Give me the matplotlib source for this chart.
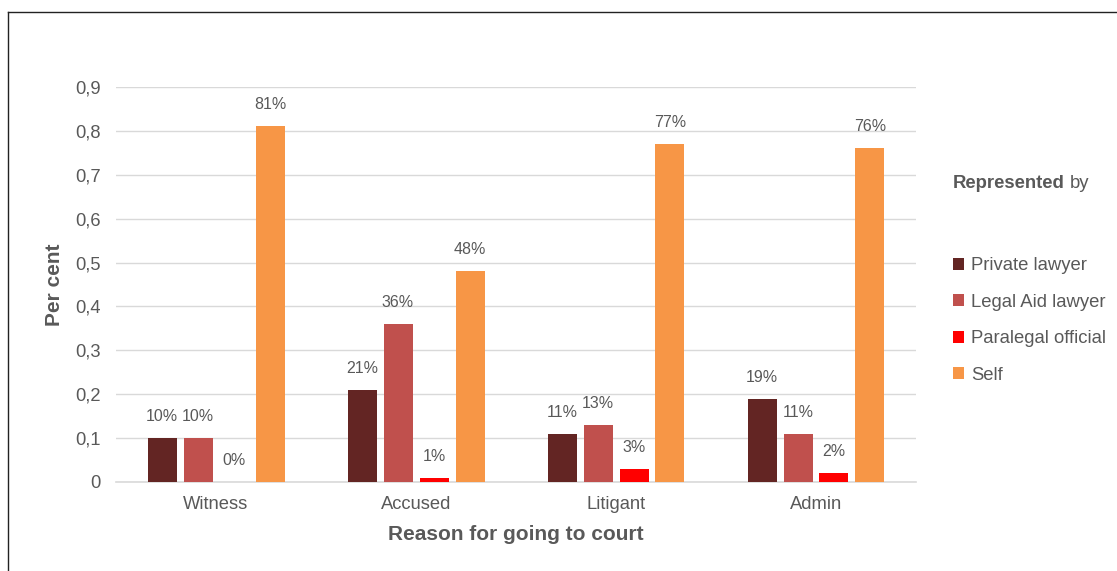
import matplotlib
matplotlib.use("Agg")
import matplotlib.pyplot as plt
from matplotlib.patches import Patch
from matplotlib.lines import Line2D

plt.rcParams['font.family'] = ['Liberation Sans', 'DejaVu Sans']

categories = ["Witness", "Accused", "Litigant", "Admin"]
series_names = ["Private lawyer", "Legal Aid lawyer", "Paralegal official", "Self"]
private_lawyer = [0.10, 0.21, 0.11, 0.19]
legal_aid = [0.10, 0.36, 0.13, 0.11]
paralegal = [0.00, 0.01, 0.03, 0.02]
self_rep = [0.81, 0.48, 0.77, 0.76]
series = [private_lawyer, legal_aid, paralegal, self_rep]
colors = ["#632523", "#C0504D", "#FF0000", "#F79646"]
yticks = [0, 0.1, 0.2, 0.3, 0.4, 0.5, 0.6, 0.7, 0.8, 0.9]
ytick_labels = ["0", "0,1", "0,2", "0,3", "0,4", "0,5", "0,6", "0,7", "0,8", "0,9"]

W, H = 1117, 571
fig = plt.figure(figsize=(W / 100, H / 100), dpi=100)
ax = fig.add_axes([116 / W, (H - 482) / H, 800 / W, (482 - 87) / H])

txt = "#595959"
bw = 0.145
offsets = [-0.27, -0.09, 0.09, 0.27]
x = list(range(len(categories)))
for s, vals, c, off in zip(series_names, series, colors, offsets):
    xs = [i + off for i in x]
    ax.bar(xs, vals, width=bw, color=c, zorder=3, label=s)
    for xi, v in zip(xs, vals):
        ax.annotate(f"{round(v * 100)}%", (xi, v), xytext=(0, 15.5), textcoords="offset points",
                    ha="center", va="center", fontsize=11.5, color=txt)

ax.set_xlim(-0.5, 3.5)
ax.set_ylim(0, 0.9)
ax.set_yticks(yticks)
ax.set_yticklabels(ytick_labels)
ax.set_xticks(x)
ax.set_xticklabels(categories)
ax.tick_params(axis="both", length=0, labelsize=13.2, colors=txt)
ax.tick_params(axis="y", pad=11)
ax.tick_params(axis="x", pad=10)
ax.grid(axis="y", color="#D9D9D9", linewidth=1, zorder=0)
for sp in ["top", "right", "left"]:
    ax.spines[sp].set_visible(False)
ax.spines["bottom"].set_color("#D9D9D9")
ax.spines["bottom"].set_linewidth(1.2)

ax.set_xlabel("Reason for going to court", fontsize=15, fontweight="bold", color=txt, labelpad=9)
ax.set_ylabel("Per cent", fontsize=15, fontweight="bold", color=txt, labelpad=8)

handles = [Patch(facecolor=c, edgecolor="none") for c in colors]
fig.legend(handles, series_names, loc="upper left", bbox_to_anchor=(946 / W, (H - 250) / H),
           frameon=False, fontsize=13.3, labelcolor=txt, handlelength=0.6, handleheight=0.6,
           handletextpad=0.35, labelspacing=1.05, borderaxespad=0)

t1 = fig.text(953 / W, (H - 183) / H, "Represented", fontsize=13.3, fontweight="bold", color=txt,
              va="center", ha="left")
fig.canvas.draw()
bb = t1.get_window_extent()
fig.text((bb.x1 + 5) / W, (H - 183) / H, "by", fontsize=13.3, color=txt, va="center", ha="left")

# figure frame (left and top edges visible)
fig.add_artist(Line2D([8 / W, 8 / W], [(H - 12) / H, 0], transform=fig.transFigure, color="#222222", lw=1))
fig.add_artist(Line2D([8 / W, 1], [(H - 12) / H, (H - 12) / H], transform=fig.transFigure, color="#222222", lw=1))

fig.savefig("out.png", dpi=100)
